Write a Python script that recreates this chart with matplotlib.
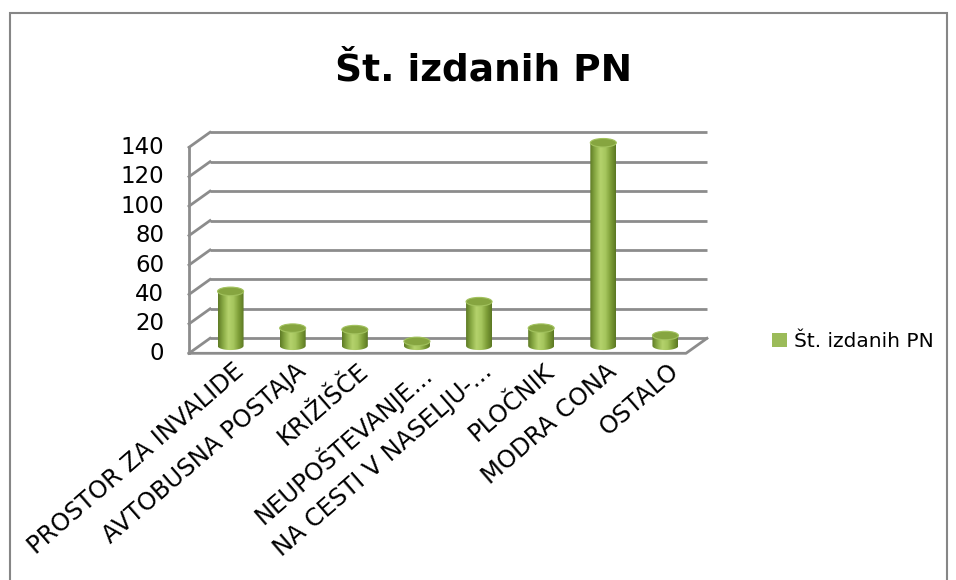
import numpy as np
import matplotlib.pyplot as plt
from matplotlib.patches import Ellipse, Polygon, Patch, Rectangle
from matplotlib.colors import LinearSegmentedColormap

categories = ['PROSTOR ZA INVALIDE', 'AVTOBUSNA POSTAJA', 'KRIŽIŠČE',
              'NEUPOŠTEVANJE...', 'NA CESTI V NASELJU-...', 'PLOČNIK',
              'MODRA CONA', 'OSTALO']
values = [37, 12, 11, 3, 30, 12, 138, 7]
yticks = [0, 20, 40, 60, 80, 100, 120, 140]
series_name = 'Št. izdanih PN'
title = 'Št. izdanih PN'

plt.rcParams['font.family'] = ['DejaVu Sans']

fig = plt.figure(figsize=(9.56, 5.8), dpi=100)

# pixel scale of the back wall: 62.125 px per category, 1.4714 px per unit
sx, sy = 62.125, 1.4714
X0, X1, Y0, Y1 = -0.9, 7.55, -12, 142
ax = fig.add_axes([(210 + (X0 + 0.5) * sx) / 956,
                   (580 - 338.3 + Y0 * sy) / 580,
                   (X1 - X0) * sx / 956,
                   (Y1 - Y0) * sy / 580])
ax.set_xlim(X0, X1)
ax.set_ylim(Y0, Y1)
ax.axis('off')

# depth offset of the front plane (data units)
ddx, ddy = -21 / sx, -15 / sy
n = len(categories)
xl, xr = -0.5, n - 0.5
grid_c = '#8c8c8c'

for v in yticks:
    ax.plot([xl, xr], [v, v], color=grid_c, lw=2, solid_capstyle='butt')
    ax.plot([xl + ddx, xl], [v + ddy, v], color=grid_c, lw=2)
ax.plot([xl + ddx, xl + ddx], [ddy, yticks[-1] + ddy], color=grid_c, lw=2)
ax.plot([xl + ddx, xr + ddx, xr], [ddy, ddy, 0], color=grid_c, lw=2)

for v in yticks:
    ax.text(xl + ddx - 0.4, v + ddy, str(v), ha='right', va='center',
            fontsize=16.5, clip_on=False)

# cylinders
cmap = LinearSegmentedColormap.from_list(
    'cyl', ['#5e7a25', '#8aab45', '#b4d26c', '#a6c65e', '#7e9e38', '#5b7723'])
grad = np.linspace(0, 1, 128).reshape(1, -1)
w = 26 / sx
eh = 8.5 / sy
for i, v in enumerate(values):
    cx = i + ddx / 2
    y0 = ddy / 2
    y1 = v + ddy / 2
    t = np.linspace(0, -np.pi, 40)
    pts = np.column_stack([cx + w / 2 * np.cos(t), y0 + eh / 2 * np.sin(t)])
    pts = np.vstack([pts, [[cx - w / 2, y1], [cx + w / 2, y1]]])
    body = Polygon(pts, closed=True, facecolor='none', edgecolor='none')
    ax.add_patch(body)
    im = ax.imshow(grad, cmap=cmap, aspect='auto', zorder=3,
                   extent=[cx - w / 2, cx + w / 2, y0 - eh, y1 + eh])
    im.set_clip_path(body)
    ax.add_patch(Ellipse((cx, y1), w, eh, facecolor='#86a540',
                         edgecolor='#a2c25e', lw=0.8, zorder=4))
ax.set_xlim(X0, X1)
ax.set_ylim(Y0, Y1)

for i, lab in enumerate(categories):
    ax.text(i + ddx + 0.2, -14.0, lab, rotation=41, rotation_mode='anchor',
            ha='right', va='top', fontsize=17.5, clip_on=False)

fig.text(484 / 956, 1 - 80 / 580, title, ha='center', va='baseline',
         fontsize=27, fontweight='bold')

fig.legend(handles=[Patch(facecolor='#9bbb59', label=series_name)],
           loc='center left', bbox_to_anchor=(772 / 956, 1 - 341.5 / 580),
           frameon=False, fontsize=14.5, handlelength=0.72, handleheight=0.72,
           handletextpad=0.35, borderaxespad=0, borderpad=0)

# chart border
fig.patches.append(Rectangle((10 / 956, -0.1), 937 / 956, 1.1 - 12.7 / 580,
                             transform=fig.transFigure, fill=False,
                             edgecolor='#868686', lw=1.5))

fig.savefig('out.png', dpi=100)
